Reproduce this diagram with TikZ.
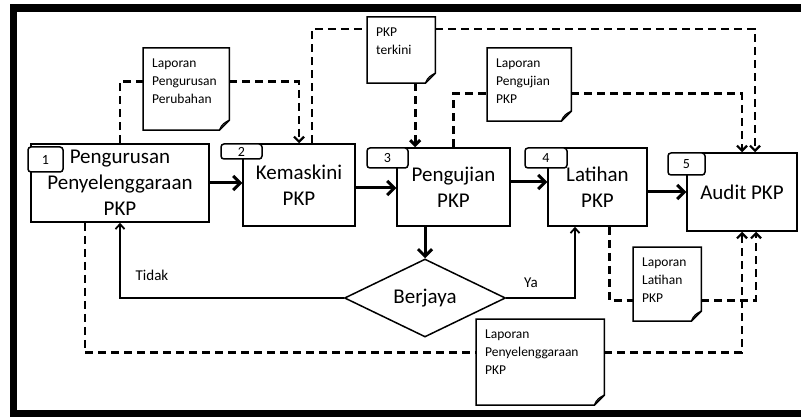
\documentclass[tikz,border=0pt]{standalone}
\usepackage{fontspec}
\setmainfont{Carlito}
\usetikzlibrary{arrows.meta,shapes.geometric}

\tikzset{
  proses/.style={draw, line width=1.5pt, align=center, inner sep=0pt,
    font=\fontsize{21}{26}\selectfont},
  nombor/.style={draw, fill=white, line width=1.5pt, rounded corners=3pt,
    inner sep=0pt, font=\fontsize{14}{16}\selectfont},
  laporan/.style={anchor=north west, align=left, inner xsep=9pt, inner ysep=11pt,
    text width=#1, font=\fontsize{13.5}{18}\selectfont},
  aliran/.style={line width=3pt, -{Straight Barb[length=7pt,width=14pt]}},
  garis/.style={line width=1.8pt, -{Straight Barb[length=5pt,width=9pt]}},
  putus/.style={line width=2.2pt, dash pattern=on 8pt off 5pt},
  hujung/.style={-{Straight Barb[length=5pt,width=10pt]}},
  teks/.style={font=\fontsize{15}{18}\selectfont}
}

\begin{document}
\begin{tikzpicture}[x=1pt,y=-1pt]
  \useasboundingbox (0,0) rectangle (801,417);
  \draw[line width=7.5pt] (13.5,8) rectangle (840,413.5);

  % proses
  \node[proses, minimum width=178pt, minimum height=78pt] (b1) at (120,183) {Pengurusan\\Penyelenggaraan\\PKP};
  \node[proses, minimum width=112pt, minimum height=82pt] (b2) at (299,185) {Kemaskini\\PKP};
  \node[proses, minimum width=113pt, minimum height=78pt] (b3) at (453.5,187) {Pengujian\\PKP};
  \node[proses, minimum width=99pt, minimum height=78pt] (b4) at (597.5,187) {Latihan\\PKP};
  \node[proses, minimum width=110pt, minimum height=78pt] (b5) at (742,192) {Audit PKP};

  % nombor
  \node[nombor, minimum width=35pt, minimum height=25pt] (n1) at (45.5,159.5) {1};
  \node[nombor, minimum width=41pt, minimum height=15pt] (n2) at (241.5,151.5) {2};
  \node[nombor, minimum width=41pt, minimum height=20pt] (n3) at (387.5,158) {3};
  \node[nombor, minimum width=42pt, minimum height=20pt] (n4) at (546,158) {4};
  \node[nombor, minimum width=37pt, minimum height=22pt] (n5) at (686.5,164) {5};

  \node[draw, diamond, aspect=2, line width=1.5pt, minimum width=161pt, minimum height=78pt,
    inner sep=0pt, font=\fontsize{21}{26}\selectfont] (d) at (425,298) {Berjaya};

  \draw[aliran] (b1.east) -- (b1.east -| b2.west);
  \draw[aliran] ([yshift=-3pt]b2.east) -- ([yshift=-3pt]b2.east -| b3.west);
  \draw[aliran] ([yshift=5pt]b3.east) -- ([yshift=5pt]b3.east -| b4.west);
  \draw[aliran] (b5.west -| b4.east) -- (b5.west);
  \draw[aliran] (d.north |- b3.south) -- (d.north);

  \draw[garis] (d.west) -| (b1.south);
  \draw[garis] (d.east) -| ([xshift=-22.5pt]b4.south);
  \node[teks] (tidak) at (152,275) {Tidak};
  \node[teks] (ya) at (531,283) {Ya};

  % laporan
  \node[laporan=68pt] (lpp) at (143,48) {Laporan\\Pengurusan\\Perubahan};
  \node[laporan=50pt] (terkini) at (367,17) {PKP\\terkini};
  \node[laporan=66pt] (lpu) at (487,48) {Laporan\\Pengujian\\PKP};
  \node[laporan=50pt] (llt) at (633,247) {Laporan\\Latihan\\PKP};
  \node[laporan=110pt] (lpn) at (476,319) {Laporan\\Penyelenggaraan\\PKP};

  \foreach \d/\e in {lpp/15, terkini/17, lpu/6, llt/7, lpn/19} {
    \draw[line width=1.5pt] (\d.north west) -- (\d.north east)
      -- ([yshift=10-\e]\d.south east) -- ([xshift=-10pt,yshift=-\e]\d.south east)
      -- ([yshift=-\e]\d.south west) -- cycle;
    \draw[line width=1.2pt] ([xshift=-10pt,yshift=-\e]\d.south east)
      .. controls ([xshift=-8pt,yshift=6-\e]\d.south east) and ([xshift=-4pt,yshift=8-\e]\d.south east)
      .. ([yshift=10-\e]\d.south east);
  }

  \draw[putus] (b1.north) |- (lpp.west);
  \draw[putus, hujung] (lpp.east) -| (b2.north);
  \draw[putus] ([xshift=13pt]b2.north) |- ([yshift=-12pt]terkini.north west);
  \draw[putus, hujung] ([yshift=-12pt]terkini.north east) -| ([xshift=13pt]b5.north);
  \draw[putus, line width=3pt, hujung] ([xshift=14pt,yshift=-17pt]terkini.south) -- ([xshift=14pt]terkini.south |- b3.north);
  \draw[putus] (b3.north) |- ([yshift=-12pt]lpu.west);
  \draw[putus, hujung] ([yshift=-12pt]lpu.east) -| (b5.north);
  \draw[putus] ([xshift=12pt]b4.south) |- ([yshift=-20pt]llt.west);
  \draw[putus, hujung] ([yshift=-20pt]llt.east) -| ([xshift=14pt]b5.south);
  \draw[putus] ([xshift=-35pt]b1.south) |- (lpn.west);
  \draw[putus, hujung] (lpn.east) -| (b5.south);
\end{tikzpicture}
\end{document}
